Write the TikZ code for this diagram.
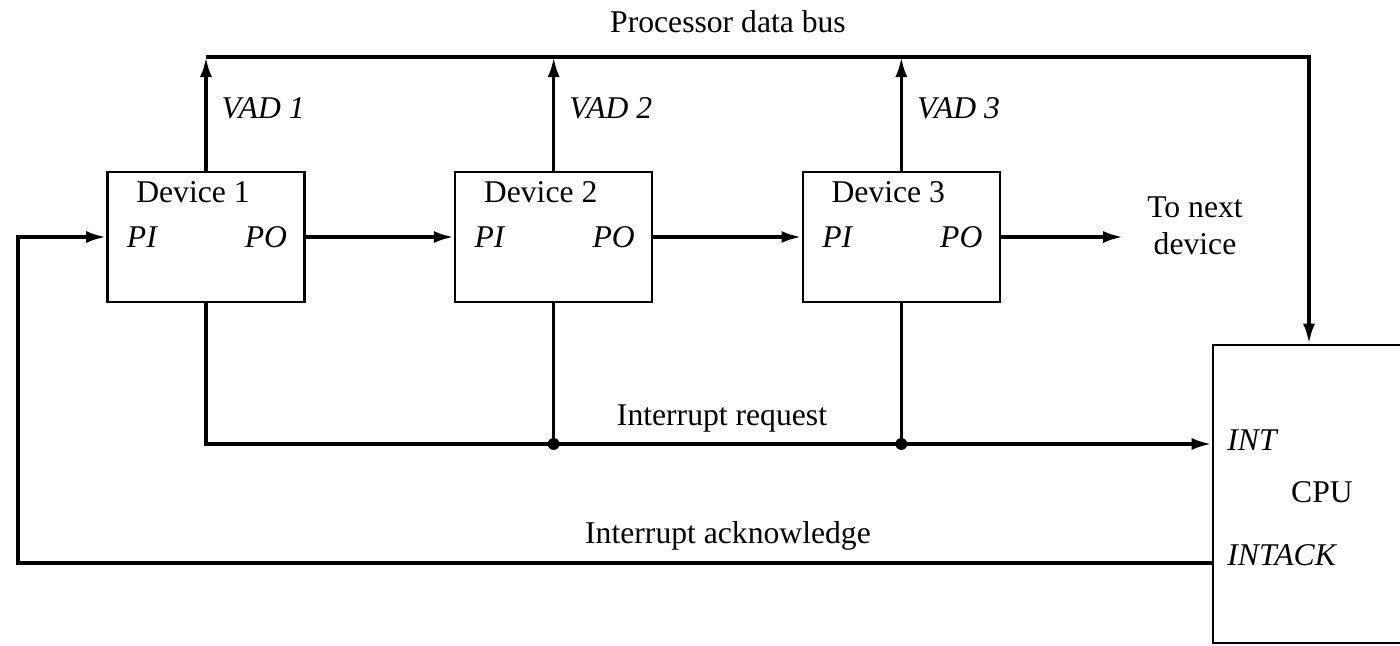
\documentclass[tikz,border=0pt]{standalone}
\usepackage{fontspec}
\setmainfont{Liberation Serif}
\usepackage{tikz}
\usetikzlibrary{arrows.meta, positioning}
\tikzset{
  devbox/.style = {rectangle, draw, line width=0.7pt, minimum width=19.7mm,
                   minimum height=13mm, inner sep=0pt},
  cpubox/.style = {rectangle, draw, line width=0.7pt, minimum width=19.2mm,
                   minimum height=29.8mm, inner sep=0pt},
  lbl/.style    = {font=\fontsize{9}{10.5}\selectfont, inner sep=1pt},
  port/.style   = {font=\fontsize{9}{10.5}\selectfont\itshape, inner sep=0pt},
  wire/.style   = {line width=1pt},
  flow/.style   = {wire, -{Latex[length=2mm, width=1.2mm]}},
  junc/.style   = {circle, fill, inner sep=0pt, minimum size=3.4pt},
}

\begin{document}
\begin{tikzpicture}[x=0.01cm, y=0.01cm, node distance=14.8mm]
  \useasboundingbox (0,0) rectangle (1400,-645);

  % devices and cpu
  \node[devbox] (dev1) at (206,-237) {};
  \node[devbox, right=of dev1] (dev2) {};
  \node[devbox, right=of dev2] (dev3) {};
  \node[cpubox] (cpu) at (1309,-494) {};

  \foreach \d in {1,2,3} {
    \node[lbl] (title\d) at ([xshift=-1.3mm, yshift=-2.1mm]dev\d.north) {Device \d};
    \node[port, anchor=west] (pi\d) at ([xshift=2mm]dev\d.west) {PI};
    \node[port, anchor=east] (po\d) at ([xshift=-1.8mm]dev\d.east) {PO};
    \node[port, anchor=west] (vad\d) at ([xshift=1.5mm, yshift=6.2mm]dev\d.north) {VAD \d};
  }

  \node[lbl] (cpuname) at ([xshift=1.3mm, yshift=0.2mm]cpu.center) {CPU};
  \coordinate (intin)  at ([yshift=5mm]cpu.west);
  \coordinate (ackout) at ([yshift=-6.9mm]cpu.west);
  \node[port, anchor=west] (int)    at ([xshift=1.5mm, yshift=0.4mm]intin) {INT};
  \node[port, anchor=west] (intack) at ([xshift=1.5mm, yshift=0.8mm]ackout) {INTACK};

  \node[lbl, align=center] (next) at (1195,-226) {To next\\device};

  % processor data bus
  \coordinate (busy)   at (0,-57);
  \coordinate (ackturn) at (18,-400);
  \node[lbl] (buslbl) at (728,-22) {Processor data bus};
  \draw[wire] (dev1.north |- busy) -- (dev3.north |- busy);
  \draw[flow] (dev3.north |- busy) -| (cpu.north);
  \foreach \d in {1,2,3}
    \draw[flow] (dev\d.north) -- (dev\d.north |- busy);

  % daisy chain
  \draw[flow] (dev1.east) -- (dev2.west);
  \draw[flow] (dev2.east) -- (dev3.west);
  \draw[flow, shorten >=2mm] (dev3.east) -- (next.west |- dev3.east);

  % interrupt request
  \node[lbl] (irqlbl) at (722,-418) {Interrupt request};
  \draw[flow] (dev1.south) |- (intin);
  \draw[wire] (dev2.south) -- (dev2.south |- intin) node[junc] {};
  \draw[wire] (dev3.south) -- (dev3.south |- intin) node[junc] {};

  % interrupt acknowledge
  \node[lbl] (acklbl) at (728,-536) {Interrupt acknowledge};
  \draw[flow] (ackout) -| (ackturn) |- (dev1.west);
\end{tikzpicture}
\end{document}
